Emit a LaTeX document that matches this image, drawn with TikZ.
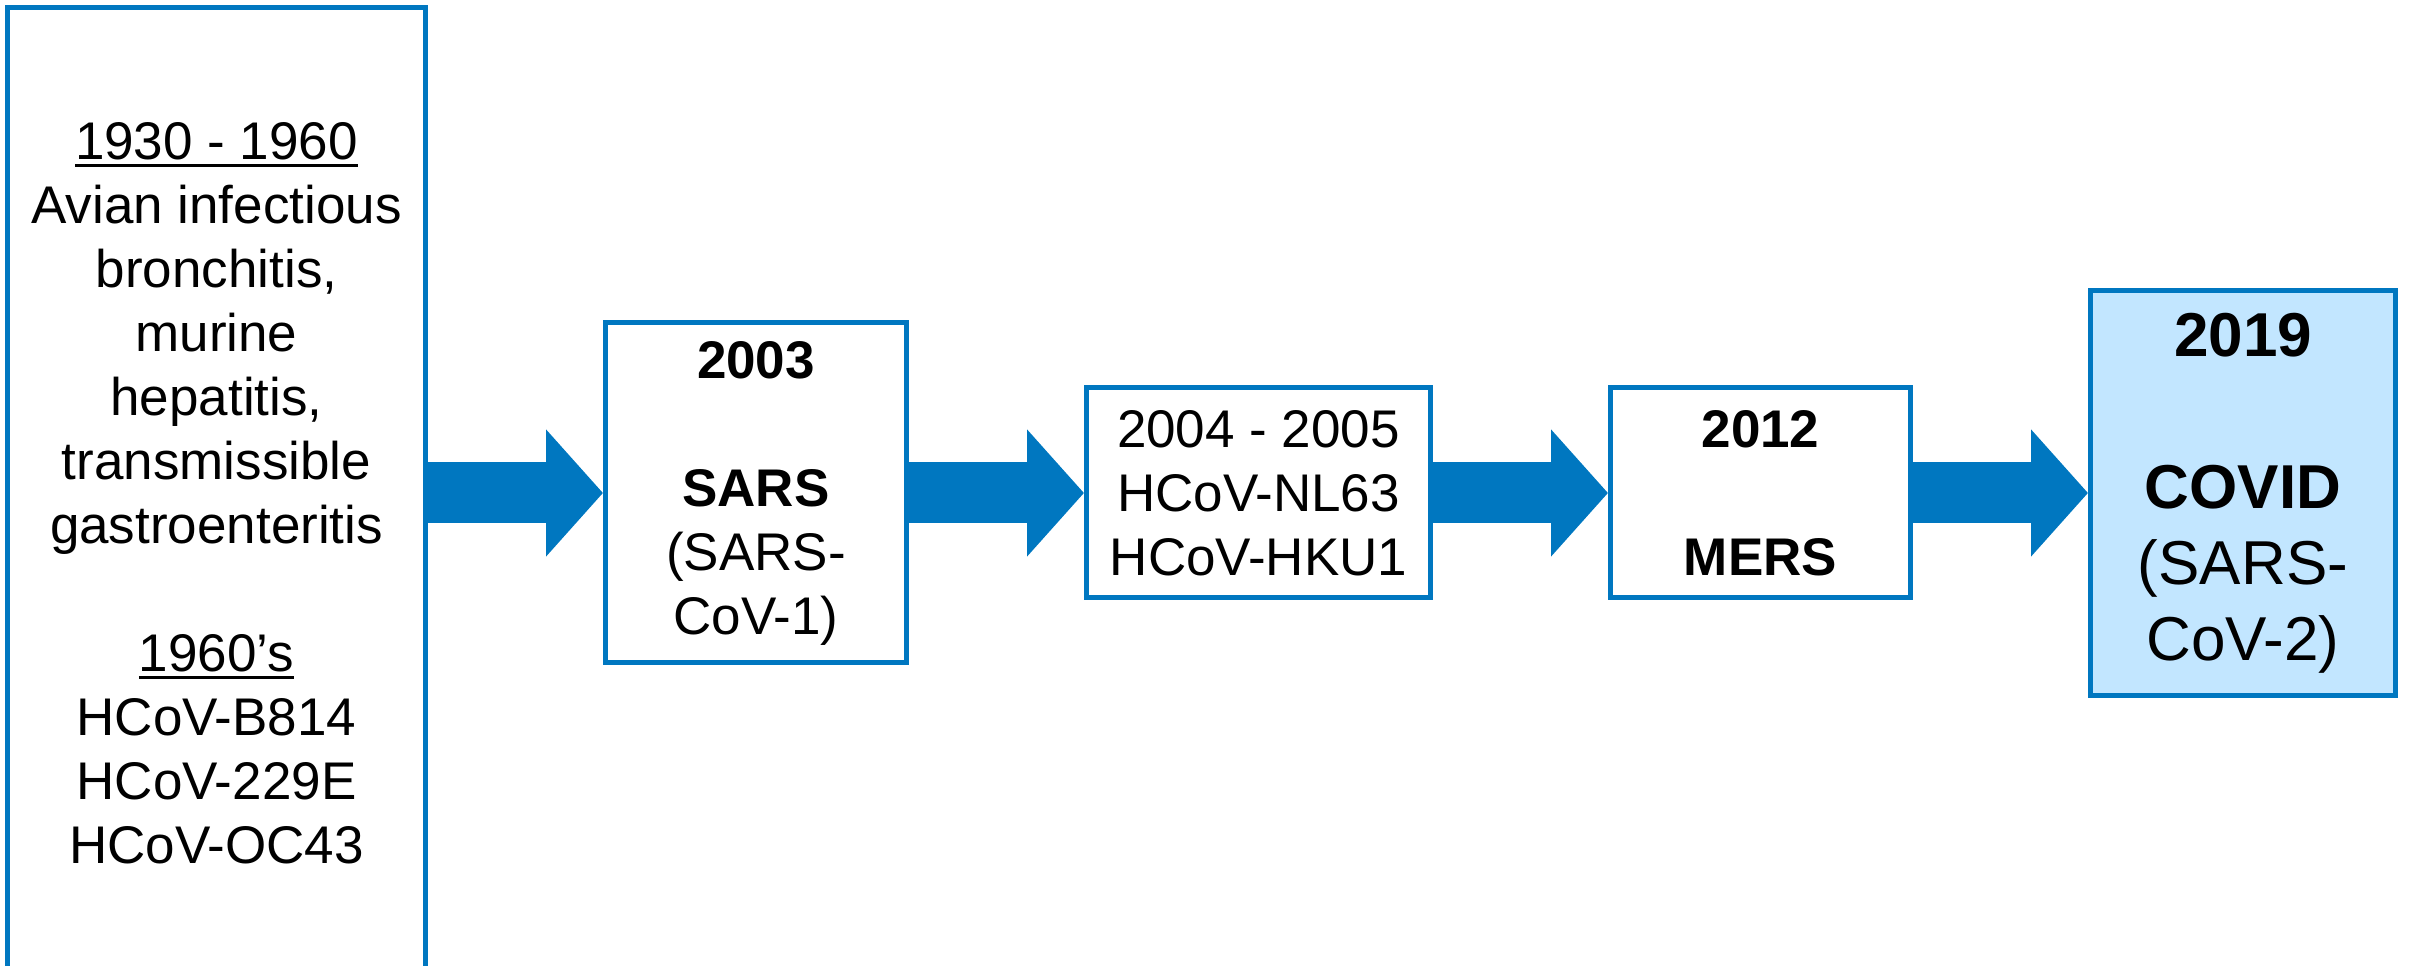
\documentclass[tikz,border=0pt]{standalone}
\usepackage{fontspec}
\setmainfont{Liberation Sans}
\usetikzlibrary{positioning, arrows.meta}

\definecolor{boxblue}{RGB}{0,119,192}
\definecolor{fillblue}{RGB}{194,230,255}

\newcommand{\yearline}[1]{\setbox0=\hbox{#1}\rlap{\rule[-8pt]{\wd0}{3.5pt}}\box0}

\begin{document}
\begin{tikzpicture}[
    node distance=175pt,
    period/.style={rectangle, draw=boxblue, line width=5pt, fill=white, align=center, inner sep=0pt, font=\fontsize{53pt}{64pt}\selectfont},
    current/.style={period, fill=fillblue, font=\fontsize{62pt}{76pt}\selectfont},
    arrow/.style={draw=boxblue, line width=61pt, -{Triangle[length=57pt, width=124pt]}}
]
\useasboundingbox (0,0) rectangle (2413pt,966pt);

% Early coronaviruses
\node[period, minimum width=418pt, minimum height=970pt] (early) at (216.5pt,473pt) {\yearline{1930 - 1960}\\ Avian infectious\\ bronchitis,\\ murine\\ hepatitis,\\ transmissible\\ gastroenteritis\\[64pt] \yearline{1960’s}\\ HCoV-B814\\ HCoV-229E\\ HCoV-OC43};

% SARS
\node[period, minimum width=301pt, minimum height=340pt, right=of early] (sars) {\textbf{2003}\\[64pt] \textbf{SARS}\\ (SARS-\\ CoV-1)};

% NL63 and HKU1
\node[period, minimum width=344pt, minimum height=210pt, right=of sars] (hcov) {2004 - 2005\\ HCoV-NL63\\ HCoV-HKU1};

% MERS
\node[period, minimum width=300pt, minimum height=210pt, right=of hcov] (mers) {\textbf{2012}\\[64pt] \textbf{MERS}};

% COVID
\node[current, minimum width=305pt, minimum height=405pt, right=of mers] (covid) {\textbf{2019}\\[76pt] \textbf{COVID}\\ (SARS-\\ CoV-2)};

% Arrows
\draw[arrow] (early) -- (sars);
\draw[arrow] (sars) -- (hcov);
\draw[arrow] (hcov) -- (mers);
\draw[arrow] (mers) -- (covid);

\end{tikzpicture}
\end{document}
